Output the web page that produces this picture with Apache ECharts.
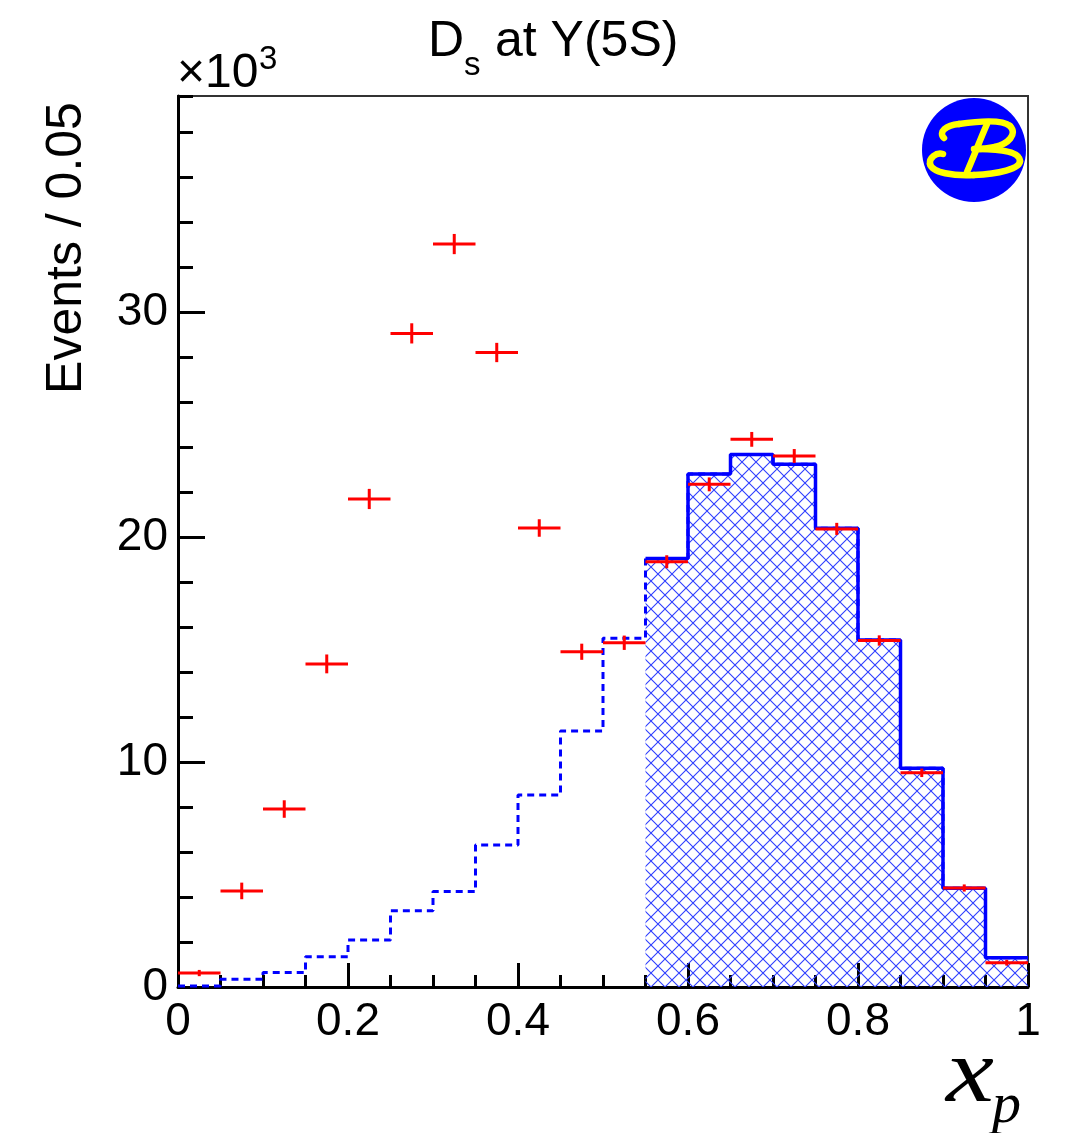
<!DOCTYPE html>
<html>
<head>
<meta charset="utf-8">
<script src="https://cdn.jsdelivr.net/npm/echarts@6/dist/echarts.min.js"></script>
<style>
html,body{margin:0;padding:0;background:#fff;}
#main{width:1076px;height:1133px;}
</style>
</head>
<body>
<div id="main"></div>
<script>
// ---- data (events in units of 10^3 per 0.05 bin) ----
const binLo = [0.00,0.05,0.10,0.15,0.20,0.25,0.30,0.35,0.40,0.45,0.50,0.55,0.60,0.65,0.70,0.75,0.80,0.85,0.90,0.95];
const binHi = [0.05,0.10,0.15,0.20,0.25,0.30,0.35,0.40,0.45,0.50,0.55,0.60,0.65,0.70,0.75,0.80,0.85,0.90,0.95,1.00];
const dataVals = [0.62,4.27,7.91,14.36,21.69,29.05,33.02,28.2,20.4,14.9,15.3,18.9,22.34,24.34,23.6,20.36,15.4,9.52,4.4,1.08];
const dataErr  = [0.05,0.28,0.30,0.33,0.36,0.36,0.36,0.34,0.30,0.27,0.23,0.20,0.22,0.24,0.22,0.18,0.14,0.10,0.07,0.04];
const mcAll    = [0.05,0.34,0.64,1.35,2.09,3.39,4.24,6.31,8.53,11.38,15.5,19.05,22.8,23.67,23.23,20.39,15.42,9.72,4.39,1.3];
const sigLo    = [0.55,0.60,0.65,0.70,0.75,0.80,0.85,0.90,0.95];
const mcSig    = [19.05,22.8,23.67,23.23,20.39,15.42,9.72,4.39,1.3];
const xTicks = [0,0.2,0.4,0.6,0.8,1];
const yTicks = [0,10,20,30];

// step-line data (left edge + closing right edge)
const allStep = binLo.map((x,i)=>[x, mcAll[i]]).concat([[binHi[binHi.length-1], mcAll[mcAll.length-1]]]);
const sigStep = sigLo.map((x,i)=>[x, mcSig[i]]).concat([[1.0, mcSig[mcSig.length-1]]]);
const pts = binLo.map((x,i)=>[x, binHi[i], dataVals[i], dataErr[i]]);

// cross-hatch pattern
const hatch = document.createElement('canvas');
const HS = 14;
hatch.width = HS; hatch.height = HS;
const hc = hatch.getContext('2d');
hc.strokeStyle = '#2f3fff';
hc.lineWidth = 1.1;
hc.beginPath();
hc.moveTo(-1,-1); hc.lineTo(HS+1,HS+1);
hc.moveTo(HS+1,-1); hc.lineTo(-1,HS+1);
hc.stroke();

const FONT = '"Liberation Sans", Arial, Helvetica, sans-serif';
const chart = echarts.init(document.getElementById('main'), null, {renderer:'canvas'});

// logo strokes (cubic segments relative to logo centre)
const LCX = 974, LCY = 150;
const logoSegs = [
  [-30,-12, -36,-18, -28,-25, -15,-26],
  [-15,-26, 5,-29, 28,-31, 36,-24],
  [36,-24, 44,-16, 34,-6, 21,-3],
  [21,-3, 12,-1, 5,-1, 0,-1],
  [13,-26, 6,-10, 0,6, -7,22],
  [-31,4, -38,2, -45,8, -44,14],
  [-44,14, -42,23, -20,26, 0,25],
  [0,25, 24,24, 46,19, 46,11],
  [46,11, 46,2, 28,-1, 5,-1]
];
const logoChildren = logoSegs.map(s => ({
  type:'bezierCurve', z:20,
  shape:{x1:LCX+s[0], y1:LCY+s[1], cpx1:LCX+s[2], cpy1:LCY+s[3], cpx2:LCX+s[4], cpy2:LCY+s[5], x2:LCX+s[6], y2:LCY+s[7]},
  style:{fill:null, stroke:'#ffff00', lineWidth:6.5, lineCap:'round'}
}));

chart.setOption({
  animation: false,
  backgroundColor: '#ffffff',
  grid: {left:178, right:48, top:96, bottom:146, show:true, borderColor:'#333', borderWidth:2, backgroundColor:'transparent'},
  xAxis: {
    type:'value', min:xTicks[0], max:xTicks[xTicks.length-1], interval:0.2,
    axisLine:{show:true, onZero:false, lineStyle:{color:'#000', width:3}},
    axisTick:{show:true, inside:true, length:24, lineStyle:{color:'#000', width:3}},
    minorTick:{show:true, splitNumber:4, length:12, lineStyle:{color:'#000', width:3}},
    splitLine:{show:false},
    axisLabel:{fontSize:46, color:'#000', fontFamily:FONT, margin:12,
      formatter: v => xTicks.indexOf(+(+v).toFixed(2))>=0 ? String(+(+v).toFixed(2)) : ''}
  },
  yAxis: [{
    type:'value', min:0, max:39.6, interval:10,
    axisLine:{show:true, onZero:false, lineStyle:{color:'#000', width:3}},
    axisTick:{show:true, inside:true, length:27, lineStyle:{color:'#000', width:3}},
    splitLine:{show:false},
    axisLabel:{fontSize:46, color:'#000', fontFamily:FONT, margin:10, showMaxLabel:false,
      formatter: v => yTicks.indexOf(+v)>=0 ? String(v) : ''}
  },{
    type:'value', min:0, max:39.6, interval:2, position:'left',
    axisLine:{show:false},
    axisTick:{show:true, inside:true, length:15, lineStyle:{color:'#000', width:3}},
    axisLabel:{show:false},
    splitLine:{show:false}
  }],
  series: [
    {
      type:'line', step:'end', data:sigStep, showSymbol:false, symbol:'none', z:2,
      lineStyle:{color:'#0000ff', width:3.5},
      areaStyle:{color:{image:hatch, repeat:'repeat'}, opacity:1, origin:'start'}
    },
    {
      type:'line', step:'end', data:allStep, showSymbol:false, symbol:'none', z:3,
      lineStyle:{color:'#0000ff', width:3, type:[7,5]}
    },
    {
      type:'custom', z:5, data:pts, encode:{x:[0,1], y:2},
      renderItem:(params, api) => {
        const lo = api.value(0), hi = api.value(1), v = api.value(2), e = api.value(3);
        const c = (lo+hi)/2;
        const a = api.coord([lo, v]), b = api.coord([hi, v]);
        const t = api.coord([c, v+e]), u = api.coord([c, v-e]);
        const st = {stroke:'#ff0000', lineWidth:3};
        return {type:'group', children:[
          {type:'line', shape:{x1:a[0], y1:a[1], x2:b[0], y2:b[1]}, style:st},
          {type:'line', shape:{x1:t[0], y1:t[1]-2, x2:u[0], y2:u[1]+2}, style:st}
        ]};
      }
    }
  ],
  graphic: [
    {type:'text', x:428, y:42, style:{text:'D', font:'50px '+FONT, fill:'#000', verticalAlign:'middle'}},
    {type:'text', x:464, y:66, style:{text:'s', font:'33px '+FONT, fill:'#000', verticalAlign:'middle'}},
    {type:'text', x:495, y:42, style:{text:'at Y(5S)', font:'50px '+FONT, fill:'#000', verticalAlign:'middle'}},
    {type:'text', x:177, y:74, style:{text:'\u00d710', font:'48px '+FONT, fill:'#000', verticalAlign:'middle'}},
    {type:'text', x:259, y:60, style:{text:'3', font:'33px '+FONT, fill:'#000', verticalAlign:'middle'}},
    {type:'text', x:67, y:248, rotation:Math.PI/2, style:{text:'Events / 0.05', font:'50px '+FONT, fill:'#000', align:'center', verticalAlign:'middle'}},
    {type:'text', x:946, y:1077, scaleX:1.2, style:{text:'x', font:'italic 90px "Liberation Serif", "Times New Roman", serif', fill:'#000', verticalAlign:'middle'}},
    {type:'text', x:992, y:1107, style:{text:'p', font:'italic 58px "Liberation Serif", "Times New Roman", serif', fill:'#000', verticalAlign:'middle'}},
    {type:'circle', shape:{cx:LCX, cy:LCY, r:52}, style:{fill:'#0000ff'}, z:10},
    ...logoChildren
  ]
});
</script>
</body>
</html>
